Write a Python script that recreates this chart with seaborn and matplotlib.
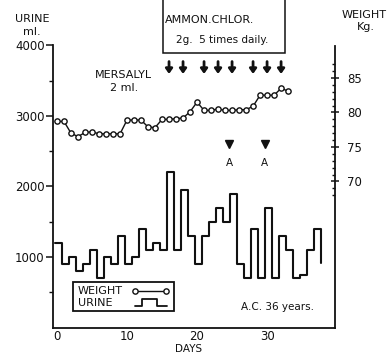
import numpy as np
import pandas as pd
import matplotlib
matplotlib.use("Agg")
import matplotlib.pyplot as plt
import matplotlib.transforms as mtransforms
from matplotlib.patches import Rectangle
from matplotlib.lines import Line2D
from matplotlib.ticker import MultipleLocator, FixedLocator, FuncFormatter
import seaborn as sns

# Data
weight_days = list(range(34))
weight_kg = [78.7, 78.7, 77.0, 76.5, 77.1, 77.2, 76.9, 76.9, 76.9, 76.9,
             78.9, 78.9, 78.9, 77.9, 77.8, 79.0, 79.0, 79.1, 79.2, 80.1,
             81.5, 80.3, 80.3, 80.5, 80.3, 80.3, 80.4, 80.4, 80.9, 82.5,
             82.5, 82.5, 83.5, 83.1]
urine_days = list(range(38))
urine_ml = [1200, 900, 1000, 800, 900, 1100, 700, 1000, 900, 1300,
            900, 1000, 1400, 1100, 1200, 1100, 2200, 1100, 1950, 1300,
            900, 1300, 1500, 1700, 1500, 1900, 900, 700, 1400, 700,
            1700, 700, 1300, 1100, 700, 750, 1100, 1400]
urine_end = 920
mersalyl_days = [16, 18, 21, 23, 25, 28, 30, 32]
a_days = [24.6, 29.7]

W, H = 387, 354
INK = "#111111"

sns.set_theme(style="white")
plt.rcParams.update({
    "font.family": ["DejaVu Sans"],
    "font.size": 8,
    "axes.edgecolor": INK,
    "axes.linewidth": 1.3,
    "xtick.color": INK,
    "ytick.color": INK,
    "text.color": INK,
})

fig = plt.figure(figsize=(W / 100, H / 100), dpi=100)
fig.patch.set_facecolor("white")
ax = fig.add_axes([53 / W, 1 - 327.5 / H, (335 - 53) / W, (327.5 - 40) / H])
ax2 = ax.twinx()
# pixel transform measured from the top-left corner of the figure
px = mtransforms.Affine2D().scale(1 / W, -1 / H).translate(0, 1) + fig.transFigure

# urine as steps, each day drawn slightly left of its tick
step_x = [d - 0.3 for d in urine_days] + [urine_days[-1] + 0.7]
step_y = urine_ml + [urine_end]
urine_df = pd.DataFrame({"day": step_x, "ml": step_y})
sns.lineplot(data=urine_df, x="day", y="ml", ax=ax, color=INK, lw=1.5,
             drawstyle="steps-post", estimator=None, sort=False)

weight_df = pd.DataFrame({"day": weight_days, "kg": weight_kg})
sns.lineplot(data=weight_df, x="day", y="kg", ax=ax2, color=INK, lw=1.0,
             marker="o", markersize=3.8, markerfacecolor="white",
             markeredgecolor=INK, markeredgewidth=1.0, estimator=None)

ax.set_xlim(-0.57, 39.7)
ax.set_ylim(0, 4078)
ax2.set_ylim(48.84, 90.5)

for a in (ax, ax2):
    a.set_xlabel("")
    a.set_ylabel("")
    a.spines["top"].set_visible(False)
ax.spines["right"].set_visible(False)
ax2.spines["left"].set_visible(False)
ax2.spines["bottom"].set_visible(False)
ax.spines["left"].set_bounds(0, 4000)
ax2.spines["right"].set_bounds(48.84, 89.6)

ax.yaxis.set_major_locator(FixedLocator([1000, 2000, 3000, 4000]))
ax.yaxis.set_minor_locator(FixedLocator([500, 1500, 2500, 3500]))
ax.tick_params(axis="y", which="major", direction="out", length=5, width=1.1,
               labelsize=8.5, pad=1)
ax.tick_params(axis="y", which="minor", direction="out", length=3, width=1.0)

ax.xaxis.set_major_locator(MultipleLocator(5))
ax.xaxis.set_minor_locator(MultipleLocator(1))
ax.xaxis.set_major_formatter(FuncFormatter(lambda v, p: f"{int(v)}" if v % 10 == 0 else ""))
ax.tick_params(axis="x", which="major", direction="in", length=5, width=1.1,
               labelsize=8.5, pad=1.5)
ax.tick_params(axis="x", which="minor", direction="in", length=2.5, width=1.0)

ax2.yaxis.set_major_locator(FixedLocator([70, 75, 80, 85]))
ax2.yaxis.set_minor_locator(FixedLocator(list(range(68, 88))))
ax2.tick_params(axis="y", which="major", direction="inout", length=6, width=1.1,
                labelsize=8.5, pad=6)
ax2.tick_params(axis="y", which="minor", direction="in", length=2.5, width=1.0)

# axis titles
fig.text(32.5 / W, 1 - 19 / H, "URINE", ha="center", va="center", fontsize=8)
fig.text(32 / W, 1 - 32 / H, "ml.", ha="center", va="center", fontsize=8)
fig.text(364.5 / W, 1 - 15 / H, "WEIGHT", ha="center", va="center", fontsize=8)
fig.text(365.5 / W, 1 - 27 / H, "Kg.", ha="center", va="center", fontsize=8)
fig.text(188.5 / W, 1 - 348.5 / H, "DAYS", ha="center", va="center", fontsize=7.5)

# ammonium chloride box, open at the top edge
fig.patches.append(Rectangle((163, -10), 122, 63, transform=px, fill=False,
                             edgecolor=INK, lw=1.1))
fig.text(165 / W, 1 - 20 / H, "AMMON.CHLOR.", ha="left", va="center", fontsize=8)
fig.text(176 / W, 1 - 40 / H, "2g.  5 times daily.", ha="left", va="center", fontsize=7.5)

# mersalyl injections
fig.text(95 / W, 1 - 75 / H, "MERSALYL", ha="left", va="center", fontsize=8)
fig.text(110 / W, 1 - 88 / H, "2 ml.", ha="left", va="center", fontsize=8)
for d in mersalyl_days:
    ax.annotate("", xy=(d, 0.882), xytext=(d, 0.925),
                xycoords=("data", "axes fraction"),
                arrowprops=dict(arrowstyle="-|>,head_width=0.25,head_length=0.35",
                                color=INK, lw=2.0, shrinkA=0, shrinkB=0))

for d in a_days:
    ax.plot(d, 0.638, marker="v", markersize=6, color=INK,
            transform=ax.get_xaxis_transform(), clip_on=False)
    ax.text(d, 0.572, "A", ha="center", va="center", fontsize=7.5,
            transform=ax.get_xaxis_transform())

ax.text(241 / W, 1 - 307 / H, "A.C. 36 years.", ha="left", va="center",
        fontsize=7.5, transform=fig.transFigure)

# legend box
fig.patches.append(Rectangle((73, 282), 101, 29, transform=px, fill=False,
                             edgecolor=INK, lw=1.3))
fig.text(78 / W, 1 - 291 / H, "WEIGHT", ha="left", va="center", fontsize=8)
fig.text(78 / W, 1 - 303.5 / H, "URINE", ha="left", va="center", fontsize=8)
fig.lines.append(Line2D([135, 166], [291, 291], transform=px, color=INK, lw=1.0,
                        marker="o", markersize=3.8, markerfacecolor="white",
                        markeredgecolor=INK))
fig.lines.append(Line2D([135, 142, 142, 157, 157, 167], [306, 306, 299, 299, 306, 306],
                        transform=px, color=INK, lw=1.3))

fig.savefig("out.png", dpi=100, facecolor="white")
